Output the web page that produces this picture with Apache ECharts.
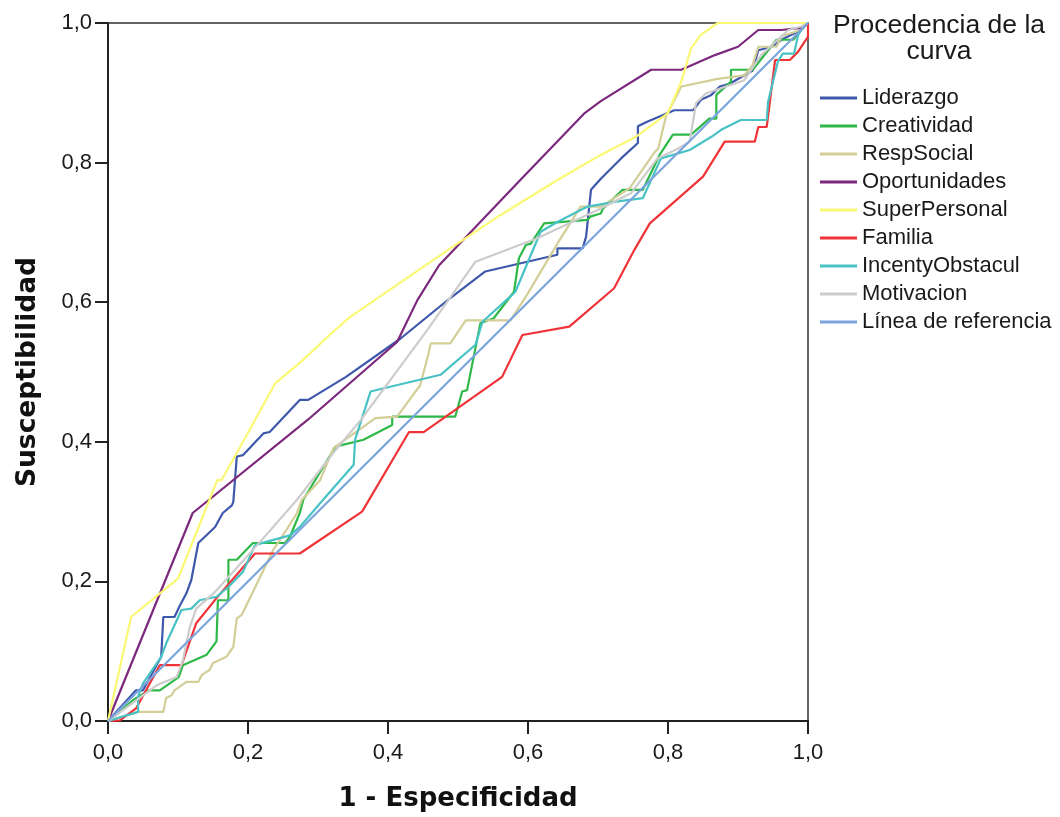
<!DOCTYPE html>
<html>
<head>
<meta charset="utf-8">
<script src="https://cdn.jsdelivr.net/npm/echarts@6/dist/echarts.min.js"></script>
<style>
html,body{margin:0;padding:0;background:#fff;}
#chart{width:1060px;height:817px;}
</style>
</head>
<body>
<div id="chart"></div>
<script>
var seriesNames = ['Liderazgo','Creatividad','RespSocial','Oportunidades','SuperPersonal','Familia','IncentyObstacul','Motivacion','Línea de referencia'];
var xTicks = [0, 0.2, 0.4, 0.6, 0.8, 1.0];

var liderazgo = [[0,0],[0.04,0.044],[0.05,0.044],[0.076,0.092],[0.079,0.149],[0.095,0.149],[0.102,0.164],[0.112,0.183],[0.119,0.202],[0.129,0.255],[0.153,0.278],[0.164,0.298],[0.177,0.309],[0.179,0.314],[0.184,0.379],[0.193,0.381],[0.222,0.412],[0.231,0.414],[0.274,0.46],[0.286,0.46],[0.34,0.493],[0.418,0.548],[0.489,0.606],[0.539,0.644],[0.642,0.668],[0.642,0.677],[0.678,0.677],[0.683,0.694],[0.69,0.761],[0.704,0.777],[0.733,0.806],[0.757,0.828],[0.757,0.852],[0.771,0.859],[0.809,0.875],[0.836,0.875],[0.847,0.89],[0.862,0.897],[0.874,0.909],[0.888,0.913],[0.921,0.932],[0.929,0.961],[0.948,0.966],[0.962,0.976],[0.99,0.99],[1,1]];

var creatividad = [[0,0],[0.036,0.03],[0.059,0.044],[0.074,0.044],[0.101,0.063],[0.107,0.08],[0.141,0.095],[0.155,0.114],[0.157,0.173],[0.172,0.173],[0.172,0.231],[0.184,0.231],[0.207,0.255],[0.253,0.255],[0.26,0.264],[0.274,0.298],[0.279,0.317],[0.325,0.393],[0.365,0.403],[0.406,0.424],[0.406,0.436],[0.496,0.436],[0.506,0.472],[0.513,0.474],[0.532,0.57],[0.551,0.577],[0.58,0.615],[0.587,0.663],[0.597,0.682],[0.604,0.684],[0.623,0.713],[0.685,0.718],[0.69,0.723],[0.704,0.727],[0.707,0.734],[0.735,0.761],[0.764,0.761],[0.788,0.811],[0.807,0.84],[0.833,0.84],[0.859,0.863],[0.869,0.863],[0.869,0.897],[0.89,0.916],[0.89,0.933],[0.921,0.933],[0.955,0.976],[0.979,0.976],[0.99,0.99],[1,1]];

var respSocial = [[0,0],[0.043,0.013],[0.079,0.013],[0.083,0.033],[0.091,0.037],[0.095,0.044],[0.112,0.056],[0.129,0.056],[0.134,0.066],[0.145,0.073],[0.15,0.083],[0.169,0.092],[0.179,0.106],[0.184,0.147],[0.191,0.152],[0.236,0.245],[0.255,0.274],[0.27,0.298],[0.277,0.317],[0.303,0.345],[0.322,0.391],[0.382,0.434],[0.413,0.436],[0.446,0.481],[0.458,0.527],[0.461,0.541],[0.489,0.541],[0.511,0.574],[0.575,0.574],[0.597,0.608],[0.642,0.684],[0.675,0.737],[0.704,0.737],[0.745,0.763],[0.781,0.815],[0.786,0.82],[0.797,0.866],[0.819,0.909],[0.871,0.92],[0.909,0.925],[0.921,0.94],[0.929,0.966],[0.955,0.966],[0.962,0.981],[0.99,0.99],[1,1]];

var oportunidades = [[0,0],[0.121,0.298],[0.286,0.432],[0.413,0.543],[0.442,0.603],[0.473,0.653],[0.589,0.775],[0.68,0.87],[0.704,0.888],[0.776,0.933],[0.819,0.933],[0.867,0.954],[0.9,0.966],[0.929,0.99],[0.962,0.99],[0.99,0.993],[1,1]];

var superPersonal = [[0,0],[0.033,0.149],[0.1,0.204],[0.145,0.317],[0.156,0.345],[0.162,0.345],[0.184,0.384],[0.239,0.484],[0.274,0.513],[0.322,0.558],[0.346,0.579],[0.489,0.677],[0.561,0.725],[0.642,0.775],[0.704,0.811],[0.754,0.837],[0.8,0.871],[0.819,0.916],[0.833,0.964],[0.847,0.983],[0.871,1],[1,1]];

var familia = [[0,0],[0.017,0.001],[0.04,0.018],[0.074,0.08],[0.105,0.08],[0.126,0.14],[0.155,0.176],[0.21,0.24],[0.274,0.24],[0.363,0.3],[0.43,0.414],[0.451,0.414],[0.563,0.493],[0.592,0.553],[0.659,0.565],[0.723,0.62],[0.752,0.675],[0.774,0.713],[0.85,0.78],[0.881,0.83],[0.924,0.83],[0.929,0.851],[0.941,0.851],[0.953,0.947],[0.974,0.947],[0.986,0.959],[0.995,0.973],[1,0.98],[1,1]];

var incentyObstacul = [[0,0],[0.043,0.013],[0.043,0.035],[0.05,0.054],[0.076,0.092],[0.083,0.111],[0.105,0.159],[0.119,0.161],[0.131,0.173],[0.155,0.178],[0.172,0.192],[0.193,0.214],[0.21,0.252],[0.227,0.257],[0.26,0.266],[0.274,0.278],[0.303,0.312],[0.351,0.367],[0.353,0.403],[0.375,0.472],[0.475,0.496],[0.525,0.539],[0.535,0.572],[0.582,0.615],[0.618,0.701],[0.642,0.715],[0.685,0.737],[0.726,0.744],[0.764,0.749],[0.79,0.806],[0.831,0.818],[0.862,0.837],[0.876,0.847],[0.904,0.861],[0.941,0.861],[0.943,0.887],[0.957,0.945],[0.964,0.956],[0.98,0.956],[0.986,0.983],[0.995,0.997],[1,1]];

var motivacion = [[0,0],[0.071,0.052],[0.098,0.063],[0.107,0.087],[0.117,0.135],[0.126,0.161],[0.153,0.185],[0.222,0.262],[0.27,0.317],[0.325,0.388],[0.361,0.431],[0.456,0.56],[0.525,0.658],[0.614,0.692],[0.659,0.713],[0.695,0.73],[0.747,0.756],[0.785,0.806],[0.814,0.82],[0.831,0.83],[0.84,0.885],[0.854,0.899],[0.909,0.918],[0.933,0.954],[0.972,0.99],[0.99,0.995],[1,1]];

var referencia = [[0,0],[1,1]];

var seriesData = [liderazgo, creatividad, respSocial, oportunidades, superPersonal, familia, incentyObstacul, motivacion, referencia];
var seriesColors = ['#3e58ac','#2eb848','#d3ce97','#7c287d','#fbf873','#ef3338','#48c2c5','#cccccc','#7ba4dd'];

var FONT = '"Liberation Sans", Arial, sans-serif';
var BOLDFONT = '"DejaVu Sans", sans-serif';
var chart = echarts.init(document.getElementById('chart'), null, {renderer: 'canvas'});

var series = seriesNames.map(function (n, i) {
  return {
    name: n,
    type: 'line',
    data: seriesData[i],
    symbol: 'none',
    animation: false,
    lineStyle: {color: seriesColors[i], width: 2.2},
    itemStyle: {color: seriesColors[i]},
    z: 2
  };
});

function fmt(v) { return v.toFixed(1).replace('.', ','); }

chart.setOption({
  backgroundColor: '#ffffff',
  animation: false,
  title: {
    text: 'Procedencia de la\ncurva',
    left: 934,
    top: 8,
    textAlign: 'center',
    textStyle: {fontFamily: FONT, fontSize: 26.5, fontWeight: 'normal', color: '#1a1a1a', lineHeight: 26}
  },
  legend: {
    orient: 'vertical',
    left: 815,
    top: 82,
    itemWidth: 37,
    itemHeight: 3,
    itemGap: 6,
    icon: 'rect',
    data: seriesNames,
    textStyle: {fontFamily: FONT, fontSize: 22, color: '#1a1a1a', lineHeight: 22, padding: [0, 0, 0, 0]}
  },
  grid: {
    left: 108, right: 252, top: 23, bottom: 96,
    show: true, borderColor: '#333', borderWidth: 1.5, backgroundColor: 'transparent'
  },
  xAxis: {
    type: 'value', min: 0, max: 1, interval: 0.2,
    name: '1 - Especificidad', nameLocation: 'middle', nameGap: 65,
    nameTextStyle: {fontFamily: BOLDFONT, fontSize: 26, fontWeight: 'bold', color: '#111'},
    axisLine: {show: true, lineStyle: {color: '#222', width: 2}},
    axisTick: {show: true, length: 13, lineStyle: {color: '#222', width: 2}},
    axisLabel: {fontFamily: FONT, fontSize: 22, color: '#1a1a1a', margin: 21, formatter: fmt},
    splitLine: {show: false}
  },
  yAxis: {
    type: 'value', min: 0, max: 1, interval: 0.2,
    name: 'Susceptibilidad', nameLocation: 'middle', nameGap: 66,
    nameTextStyle: {fontFamily: BOLDFONT, fontSize: 26.5, fontWeight: 'bold', color: '#111'},
    axisLine: {show: true, lineStyle: {color: '#222', width: 2}},
    axisTick: {show: true, length: 13, lineStyle: {color: '#222', width: 2}},
    axisLabel: {fontFamily: FONT, fontSize: 22, color: '#1a1a1a', margin: 16, formatter: fmt},
    splitLine: {show: false}
  },
  series: series
});
</script>
</body>
</html>
